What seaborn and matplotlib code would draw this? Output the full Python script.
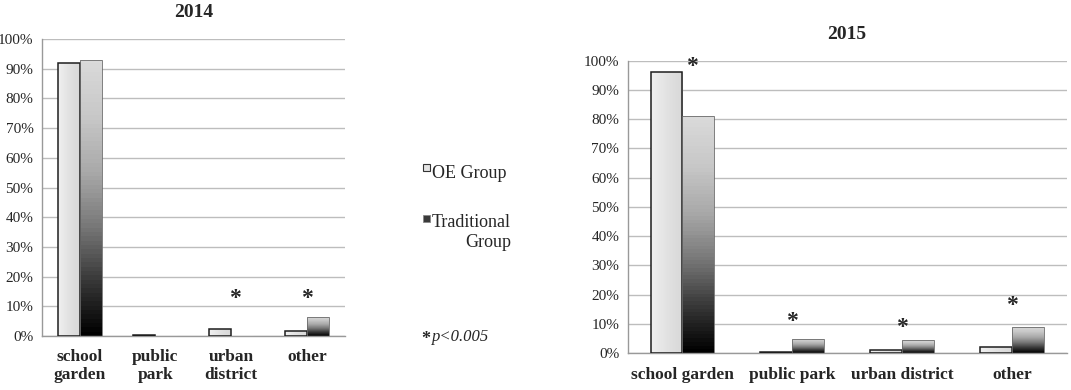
import numpy as np
import pandas as pd
import matplotlib
matplotlib.use('Agg')
import matplotlib.pyplot as plt
import seaborn as sns
from matplotlib.patches import Rectangle
from matplotlib.colors import LinearSegmentedColormap

categories2014 = ['school\ngarden', 'public\npark', 'urban\ndistrict', 'other']
categories2015 = ['school garden', 'public park', 'urban district', 'other']
groups = ['OE Group', 'Traditional Group']

oe2014 = [92.0, 0.3, 2.5, 1.6]
trad2014 = [93.0, 0.0, 0.0, 6.6]
oe2015 = [96.2, 0.3, 1.1, 2.2]
trad2015 = [81.0, 4.8, 4.3, 9.0]

# significance marks: x in category units, height (%)
stars2014 = [(2.05, 14.2), (3.0, 14.2)]
stars2015 = [(0.09, 99.5), (1.0, 12.3), (2.0, 10.3), (3.0, 17.5)]

yTicks = list(range(0, 101, 10))
yTickLabels = [f'{v}%' for v in yTicks]


def makeFrame(cats, oe, trad):

    return pd.DataFrame({
        'category': cats * 2,
        'group': [groups[0]] * len(cats) + [groups[1]] * len(cats),
        'value': oe + trad,
    })


lightMap = LinearSegmentedColormap.from_list('light', ['#f0f0f0', '#e2e2e2', '#d8d8d8'])
darkMap = LinearSegmentedColormap.from_list('dark', ['#000000', '#3a3a3a', '#7a7a7a', '#aaaaaa', '#c8c8c8', '#dadada'])


def shadeBars(ax):

    xl, yl = ax.get_xlim(), ax.get_ylim()

    for k, container in enumerate(ax.containers):
        for patch in container.patches:
            h = patch.get_height()
            if h <= 0:
                continue
            x0, y0 = patch.get_x(), patch.get_y()
            w = patch.get_width()
            if k == 0:
                grad = np.linspace(0, 1, 64).reshape(1, -1)
                im = ax.imshow(grad, extent=[x0, x0 + w, y0, y0 + h], aspect='auto',
                               cmap=lightMap, origin='lower', zorder=2)
                patch.set_edgecolor('#1e1e1e')
                patch.set_linewidth(1.1)
            else:
                grad = np.linspace(0, 1, 64).reshape(-1, 1)
                im = ax.imshow(grad, extent=[x0, x0 + w, y0, y0 + h], aspect='auto',
                               cmap=darkMap, origin='lower', zorder=2)
                patch.set_edgecolor('#6a6a6a')
                patch.set_linewidth(0.6)
            patch.set_facecolor('none')
            patch.set_zorder(3)
            im.set_clip_path(patch)

    ax.set_xlim(xl)
    ax.set_ylim(yl)


def drawPanel(ax, df, title, stars, labelPad):

    sns.barplot(data=df, x='category', y='value', hue='group', ax=ax,
                width=0.58, legend=False, errorbar=None, saturation=1,
                palette=['#e6e6e6', '#444444'])

    n = df['category'].nunique()
    ax.set_xlim(-0.5, n - 0.5)
    ax.set_ylim(0, 100)
    ax.set_yticks(yTicks)
    ax.set_yticklabels(yTickLabels, fontsize=11)
    ax.set_xlabel('')
    ax.set_ylabel('')

    for lbl in ax.get_xticklabels():
        lbl.set_fontweight('bold')
        lbl.set_fontsize(12.5)

    ax.tick_params(axis='x', length=0, pad=labelPad)
    ax.set_xticks(np.arange(n + 1) - 0.5, minor=True)
    ax.tick_params(axis='x', which='minor', length=4, color='#999999')
    ax.tick_params(axis='y', length=4, color='#999999', pad=2)

    ax.yaxis.grid(True, color='#bdbdbd', linewidth=1.0)
    ax.xaxis.grid(False)
    ax.set_axisbelow(True)

    for side in ['top', 'right']:
        ax.spines[side].set_visible(False)
    for side in ['left', 'bottom']:
        ax.spines[side].set_color('#999999')
        ax.spines[side].set_linewidth(1.0)

    ax.set_title(title, fontweight='bold', fontsize=14, pad=16)

    shadeBars(ax)

    # the asterisk glyph sits high in its box, so nudge it down a little
    for sx, h in stars:
        ax.annotate('*', (sx, h), xytext=(0, -3), textcoords='offset points',
                    ha='center', va='center', fontsize=17, fontweight='bold', zorder=5)


sns.set_style('white')
plt.rcParams['font.family'] = ['Liberation Serif', 'DejaVu Serif']

fig = plt.figure(figsize=(10.71, 3.9), dpi=100)

axLeft = fig.add_axes([0.039, 0.138, 0.283, 0.762])
axRight = fig.add_axes([0.586, 0.095, 0.410, 0.749])

drawPanel(axLeft, makeFrame(categories2014, oe2014, trad2014), '2014', stars2014, 9)
drawPanel(axRight, makeFrame(categories2015, oe2015, trad2015), '2015', stars2015, 10)

# legend drawn by hand so the marker sits on the first text line
W, H = 1071, 390
fig.add_artist(Rectangle((423 / W, 1 - 171 / H), 7 / W, 7 / H, transform=fig.transFigure,
                         facecolor='#e4e4e4', edgecolor='#333333', linewidth=0.8))
fig.add_artist(Rectangle((423 / W, 1 - 222 / H), 7 / W, 7 / H, transform=fig.transFigure,
                         facecolor='#3a3a3a', edgecolor='#888888', linewidth=0.6))
fig.text(432 / W, 1 - 173 / H, groups[0], fontsize=13, va='center', ha='left')
fig.text(432 / W, 1 - 214 / H, groups[1].replace(' ', '\n'), fontsize=13, va='top',
         ha='left', multialignment='right', linespacing=1.2)

fig.text(421 / W, 1 - 339 / H, '*', fontsize=13, fontweight='bold', va='center')
fig.text(432 / W, 1 - 337 / H, 'p<0.005', fontsize=12, fontstyle='italic', va='center')

fig.savefig('out.png', dpi=100)
